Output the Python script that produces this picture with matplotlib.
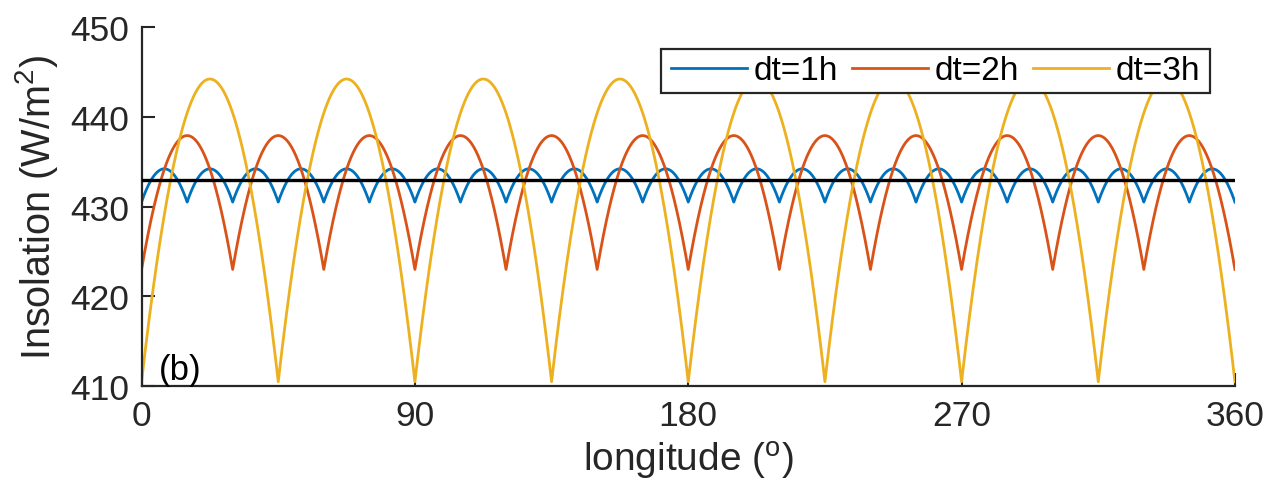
import numpy as np
import matplotlib
matplotlib.use('Agg')
import matplotlib.pyplot as plt
from matplotlib.patches import Rectangle

plt.rcParams['font.family'] = ['Liberation Sans', 'DejaVu Sans']
plt.rcParams['mathtext.fontset'] = 'custom'
plt.rcParams['mathtext.rm'] = 'Liberation Sans'
plt.rcParams['mathtext.it'] = 'Liberation Sans'

# values
labels = ['dt=1h', 'dt=2h', 'dt=3h']
colors = ['#0072BD', '#D95319', '#EDB120']
cusp_spacing = [15, 30, 45]          # degrees between cusps, first cusp at 0
peak_values = [434.2, 437.9, 444.2]  # top of each arch
cusp_values = [430.5, 423.0, 410.5]  # bottom of each cusp
mean_value = 433.0                   # black reference line

x_ticks = [0, 90, 180, 270, 360]
y_ticks = [410, 420, 430, 440, 450]

lon = np.linspace(0, 360, 7201)

fig = plt.figure(figsize=(12.64, 4.81), dpi=100)
ax = fig.add_axes([0.112, 0.195, 0.865, 0.747])

for lab, col, p, top, bot in zip(labels, colors, cusp_spacing, peak_values, cusp_values):
    # distance from the centre of the arch the point sits in
    d = np.abs((lon % p) - p / 2.0)
    d[-1] = p / 2.0
    half = np.deg2rad(p / 2.0)
    shape = (np.cos(np.deg2rad(d)) - np.cos(half)) / (1 - np.cos(half))
    ax.plot(lon, bot + (top - bot) * shape, color=col, lw=2.0, label=lab)

ax.axhline(mean_value, color='k', lw=2.4, zorder=3)

ax.set_xlim(0, 360)
ax.set_ylim(410, 450)
ax.set_xticks(x_ticks)
ax.set_yticks(y_ticks)
ax.tick_params(direction='in', length=9.5, width=1.5, labelsize=25.5,
               colors='#262626', labelcolor='#262626')
ax.tick_params(axis='x', pad=9)
ax.tick_params(axis='y', pad=9)
for s in ['top', 'right']:
    ax.spines[s].set_visible(False)
for s in ['left', 'bottom']:
    ax.spines[s].set_linewidth(1.6)
    ax.spines[s].set_color('#262626')

ax.set_xlabel(r'longitude ($^{\rm o}$)', fontsize=28, color='#262626', labelpad=5)
ax.set_ylabel(r'Insolation (W/m$^{2}$)', fontsize=28.5, color='#262626', labelpad=7)

ax.text(0.016, 0.02, '(b)', transform=ax.transAxes, fontsize=25, va='baseline')

# legend box
box = Rectangle((0.4747, 0.817), 0.977 - 0.4747, 0.9376 - 0.817, transform=ax.transAxes,
                facecolor='white', edgecolor='#262626', lw=1.6, zorder=6)
ax.add_patch(box)
leg = ax.legend(loc='center', bbox_to_anchor=((0.4747 + 0.977) / 2, (0.817 + 0.9376) / 2),
                ncol=3, fontsize=24, frameon=False,
                handlelength=2.3, handletextpad=0.18, columnspacing=0.42,
                borderpad=0, borderaxespad=0)
leg.set_zorder(7)

fig.savefig('out.png', dpi=100)
